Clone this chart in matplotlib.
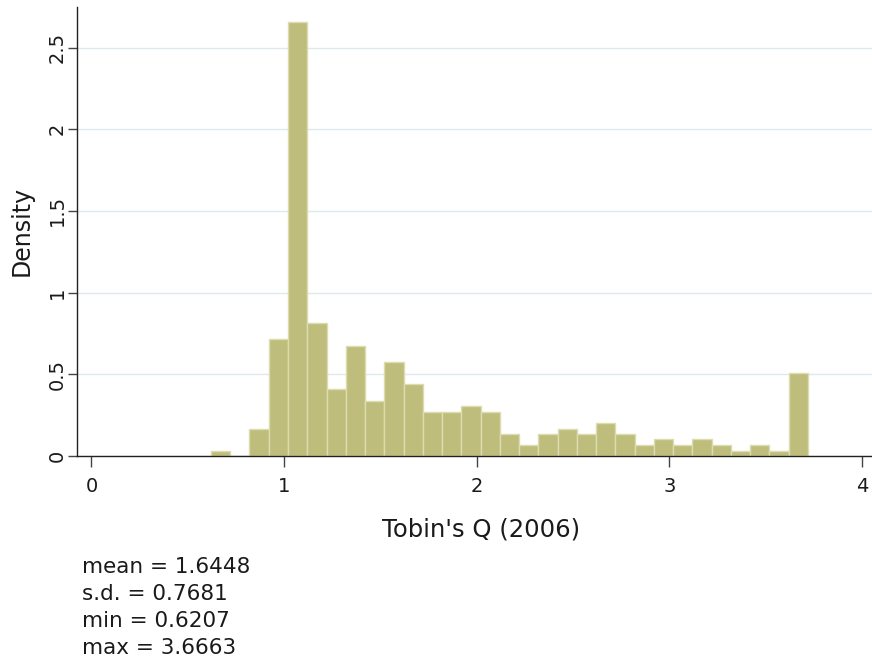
import matplotlib
matplotlib.use("Agg")
import matplotlib.pyplot as plt
import numpy as np

# Histogram data
bin_start = 0.6207
bin_width = 0.1
densities = [0.033, 0.0, 0.168, 0.714, 2.656, 0.816, 0.408, 0.676, 0.339, 0.573,
             0.441, 0.268, 0.268, 0.306, 0.268, 0.135, 0.065, 0.135, 0.168, 0.135,
             0.205, 0.135, 0.065, 0.103, 0.065, 0.103, 0.065, 0.033, 0.065, 0.033,
             0.508]
xticks = [0, 1, 2, 3, 4]
yticks = [0, 0.5, 1, 1.5, 2, 2.5]
ytick_labels = ["0", "0.5", "1", "1.5", "2", "2.5"]
stats_lines = ["mean = 1.6448", "s.d. = 0.7681", "min = 0.6207", "max = 3.6663"]
xlabel = "Tobin's Q (2006)"
ylabel = "Density"

plt.rcParams['font.family'] = ['DejaVu Sans']

W, H = 872, 658
fig = plt.figure(figsize=(W / 100, H / 100), dpi=100)
fig.patch.set_facecolor('white')

left_px, right_px, top_px, bottom_px = 77, 872, 7, 456
ax = fig.add_axes([left_px / W, 1 - bottom_px / H,
                   (right_px - left_px) / W, (bottom_px - top_px) / H])

edges = bin_start + bin_width * np.arange(len(densities))
ax.bar(edges, densities, width=bin_width, align='edge',
       color='#bfbd7c', edgecolor='#dcdcb0', linewidth=1.0, zorder=3)

ax.set_xlim(-0.0748, 4.053)
ax.set_ylim(0, 2.748)

ax.set_yticks(yticks)
ax.set_yticklabels(ytick_labels, rotation=90, va='center')
ax.set_xticks(xticks)
ax.set_xticklabels([str(t) for t in xticks])

ax.grid(axis='y', color='#dde9ec', linewidth=1.0, zorder=0)
ax.grid(axis='x', visible=False)
ax.set_axisbelow(True)

for s in ['top', 'right']:
    ax.spines[s].set_visible(False)
for s in ['left', 'bottom']:
    ax.spines[s].set_color('#222222')
    ax.spines[s].set_linewidth(1.0)
    ax.spines[s].set_zorder(4)

ax.tick_params(axis='x', length=7.7, width=1.0, color='#444444',
               labelsize=14, pad=7.5, labelcolor='#1a1a1a')
ax.tick_params(axis='y', length=6.5, width=1.0, color='#444444',
               labelsize=14, pad=1.0, labelcolor='#1a1a1a')

fig.text(481 / W, 1 - 529 / H, xlabel, ha='center', va='center',
         fontsize=17.5, color='#1a1a1a')
fig.text(22 / W, 1 - 231 / H, ylabel, ha='center', va='center',
         rotation=90, fontsize=17, color='#1a1a1a')

baselines = [573.3, 600.5, 627.4, 654.3]
for line, b in zip(stats_lines, baselines):
    fig.text(82 / W, 1 - b / H, line, ha='left', va='baseline',
             fontsize=15.5, color='#1a1a1a')

fig.savefig('out.png', dpi=100, facecolor='white')
